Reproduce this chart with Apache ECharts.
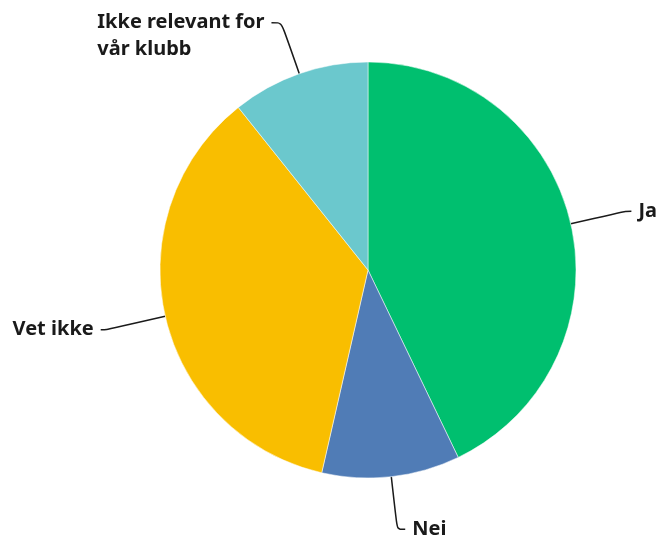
<!DOCTYPE html>
<html><head><meta charset="utf-8">
<script src="https://cdn.jsdelivr.net/npm/echarts@6/dist/echarts.min.js"></script>
<style>html,body{margin:0;padding:0;background:#fff}#c{width:669px;height:541px}</style>
</head><body><div id="c"></div>
<script>
const categories = ['Ja', 'Nei', 'Vet ikke', 'Ikke relevant for vår klubb'];
const values = [12, 3, 10, 3];
const colors = ['#00bf6f', '#507cb6', '#f9be00', '#6bc8cd'];
const lineLengths = [[56, 6], [53, 8], [60, 6], [54, 10]];

const chart = echarts.init(document.getElementById('c'), null, {renderer: 'canvas'});
const data = categories.map((name, i) => {
  const item = {
    name, value: values[i],
    itemStyle: {color: colors[i]},
    labelLine: {length: lineLengths[i][0], length2: lineLengths[i][1]}
  };
  if (i === 3) {
    item.label = {
      formatter: '{a|Ikke relevant for}\n{a|vår klubb}',
      padding: [27, 0, 0, 0]
    };
  }
  return item;
});
chart.setOption({
  animation: false,
  series: [{
    type: 'pie',
    center: [368, 270],
    radius: 208,
    startAngle: 90,
    clockwise: true,
    avoidLabelOverlap: false,
    itemStyle: {borderColor: '#ffffff', borderWidth: 0.5},
    label: {
      show: true,
      color: '#1a1a1a',
      fontFamily: 'Noto Sans',
      fontWeight: 'bold',
      fontSize: 20,
      lineHeight: 27,
      distanceToLabelLine: 7,
      rich: {a: {align: 'left', fontFamily: 'Noto Sans', fontWeight: 'bold', fontSize: 20, lineHeight: 27, color: '#1a1a1a'}}
    },
    labelLine: {show: true, smooth: 0.3, lineStyle: {color: '#1a1a1a', width: 1.5}},
    data
  }]
});
</script></body></html>
